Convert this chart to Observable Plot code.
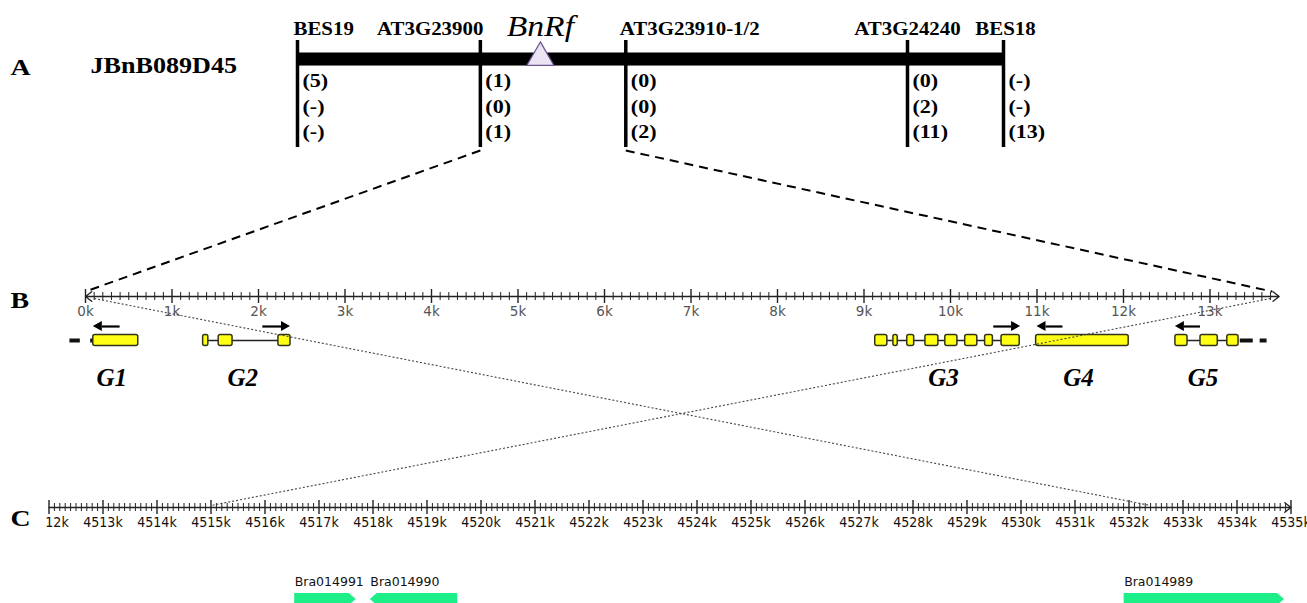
<!DOCTYPE html>
<html><head><meta charset="utf-8">
<script src="https://cdn.jsdelivr.net/npm/d3@7"></script>
<script src="https://cdn.jsdelivr.net/npm/@observablehq/plot@0.6"></script>
<style>
html,body{margin:0;padding:0;background:#fff;overflow:hidden;}
#chart{position:relative;width:1307px;height:603px;overflow:hidden;background:#fff;}
#chart svg{display:block;background:#fff;}
</style></head><body><div id="chart"></div>
<script>
// ---------- Panel A: BAC clone with markers (relative position along clone, 0-100) ----------
const bacName = "JBnB089D45";
const markers = ["BES19", "AT3G23900", "AT3G23910-1/2", "AT3G24240", "BES18"];
const markerPos = [0, 25.9, 46.5, 86.4, 100];
const recombRow1 = ["(5)", "(1)", "(0)", "(0)", "(-)"];
const recombRow2 = ["(-)", "(0)", "(0)", "(2)", "(-)"];
const recombRow3 = ["(-)", "(1)", "(2)", "(11)", "(13)"];
const rfName = "BnRf";
const rfPos = 34.4;
const panelLetters = ["A", "B", "C"];

// ---------- Panel B: BAC sequence (kb) ----------
const bTickValues = [0,1,2,3,4,5,6,7,8,9,10,11,12,13];
const bTickLabels = ["0k","1k","2k","3k","4k","5k","6k","7k","8k","9k","10k","11k","12k","13k"];
const bAxisEnd = 13.8;
const geneNames = ["G1", "G2", "G3", "G4", "G5"];
const geneExons = [
  [[0.09, 0.61]],
  [[1.36, 1.42], [1.54, 1.70], [2.23, 2.37]],
  [[9.13, 9.27], [9.34, 9.39], [9.50, 9.58], [9.71, 9.86], [9.94, 10.08], [10.17, 10.31], [10.40, 10.49], [10.59, 10.80]],
  [[10.99, 12.06]],
  [[12.60, 12.74], [12.89, 13.09], [13.20, 13.33]]
];
const geneArrowFrom = [0.40, 2.05, 10.50, 11.30, 12.89];
const geneArrowTo   = [0.09, 2.37, 10.81, 11.00, 12.60];
const flankStart = [-0.18, 0.06, 13.35, 13.58];
const flankEnd   = [-0.06, 0.09, 13.50, 13.66];

// ---------- Panel C: B. rapa chromosome (kb) ----------
const cTickValues = [4512,4513,4514,4515,4516,4517,4518,4519,4520,4521,4522,4523,4524,4525,4526,4527,4528,4529,4530,4531,4532,4533,4534,4535];
const cTickLabels = ["4512k","4513k","4514k","4515k","4516k","4517k","4518k","4519k","4520k","4521k","4522k","4523k","4524k","4525k","4526k","4527k","4528k","4529k","4530k","4531k","4532k","4533k","4534k","4535k"];
const braNames  = ["Bra014991", "Bra014990", "Bra014989"];
const braStart  = [4516.55, 4517.95, 4531.91];
const braEnd    = [4517.69, 4519.57, 4534.88];
const braStrand = [1, -1, 1];

// ---------- connections ----------
const zoomMarkers = [1, 2];          // AT3G23900, AT3G23910-1/2
const zoomToB = [0, 13.72];          // kb on panel B
const synB = [0.1, 13.7];            // kb on panel B
const synC = [4532.4, 4515.0];       // kb on panel C

// ---------- layout (pixels, vertical) ----------
const W = 1307, H = 603;
const Y = {aLabel: 29, rf: 26, bar: 58.5, rfTri: 57, vTop: 40, vBot: 147, rows: [80, 106, 131], letters: [67, 300, 518],
  bac: 65, zoomTop: 150, zoomBot: 291, bAxis: 296, bLabel: 311, gArrow: 326, gene: 340, gLabel: 377,
  cAxis: 507, cLabel: 522, braLabel: 581, braMid: 599};
const serif = "'Liberation Serif','Times New Roman',Times,serif";
const sans = "'DejaVu Sans',Verdana,sans-serif";
const cond = "'DejaVu Sans Condensed','DejaVu Sans',sans-serif";
const yLayout = {domain: [0, H], range: [0, H], axis: null};

function layer(x, marks, extra = {}) {
  return Plot.plot({width: W, height: H, margin: 0, ...extra, x: {...x, axis: null}, y: yLayout, marks});
}
const idx = markers.map((_, i) => i);
const labelAnchor = ["start", "end", "start", "middle", "middle"];
const labelDx = [-4, 3, -6, 0, 2];
const bold = {fontFamily: serif, fontWeight: "bold", fill: "#000"};

// ---------- Panel A ----------
const plotA = layer({domain: [0, 100], range: [297, 1003]}, [
  Plot.text(panelLetters, {frameAnchor: "left", dx: 10, y: (d, i) => Y.letters[i], text: d => d, fontSize: 24, ...bold}),
  Plot.text([bacName], {frameAnchor: "left", dx: 90, y: () => Y.bac, text: d => d, fontSize: 22.5, ...bold}),
  Plot.ruleY([0], {x1: () => markerPos[0], x2: () => markerPos[markerPos.length - 1], y: () => Y.bar + 4, strokeWidth: 5, stroke: "#bbb", strokeOpacity: 0.6}),
  Plot.ruleY([0], {x1: () => markerPos[0], x2: () => markerPos[markerPos.length - 1], y: () => Y.bar, strokeWidth: 13, stroke: "#000"}),
  Plot.ruleX(markerPos, {x: d => d, y1: () => Y.vTop, y2: () => Y.vBot, strokeWidth: 3.5, stroke: "#000"}),
  Plot.dot([rfPos], {x: d => d, y: () => Y.rfTri, r: 10, symbol: "triangle", fill: "#ebe4f3", stroke: "#6d5592", strokeWidth: 1.3}),
  Plot.text([rfName], {x: () => rfPos, y: () => Y.rf, text: d => d, fontSize: 29, fontStyle: "italic", fontFamily: serif, fill: "#000"}),
  ...idx.map(i => Plot.text([markers[i]], {x: () => markerPos[i], y: () => Y.aLabel, text: d => d,
    textAnchor: labelAnchor[i], dx: labelDx[i], fontSize: 18, ...bold})),
  ...[recombRow1, recombRow2, recombRow3].map((row, r) => Plot.text(idx, {x: i => markerPos[i], y: () => Y.rows[r],
    text: i => row[i], textAnchor: "start", dx: 5, fontSize: 19, ...bold}))
]);
const aTexts = Array.from(plotA.querySelectorAll("text"));

// ---------- Panel B ----------
const bMinor = d3.range(1, Math.round(bAxisEnd * 10)).map(d => d / 10).filter(d => Math.abs(d - Math.round(d)) > 1e-6);
const genes = geneNames.map((name, i) => ({name, exons: geneExons[i], from: geneArrowFrom[i], to: geneArrowTo[i]}));
const exons = genes.flatMap(g => g.exons.map(e => ({s: e[0], e: e[1]})));
const bHeadLen = 9 / 86.5;
const heads = genes.flatMap(g => {
  const dir = Math.sign(g.to - g.from), base = g.to - dir * bHeadLen;
  return [{g: g.name, x: base, y1: Y.gArrow - 5, y2: Y.gArrow + 5}, {g: g.name, x: g.to, y1: Y.gArrow, y2: Y.gArrow}];
});
const plotB = layer({domain: [0, bAxisEnd], range: [85, 85 + bAxisEnd * 86.5]}, [
  Plot.arrow([0, bAxisEnd], {x1: () => bAxisEnd / 2, x2: d => d, y1: () => Y.bAxis, y2: () => Y.bAxis, headLength: 9, headAngle: 75, strokeWidth: 1.3, stroke: "#222"}),
  Plot.ruleX(bMinor, {x: d => d, y1: () => Y.bAxis - 4, y2: () => Y.bAxis + 4, strokeWidth: 1, stroke: "#222"}),
  Plot.ruleX(bTickValues, {x: d => d, y1: () => Y.bAxis - 7, y2: () => Y.bAxis + 7, strokeWidth: 1.4, stroke: "#222"}),
  Plot.text(bTickValues, {x: d => d, y: () => Y.bLabel, text: (d, i) => bTickLabels[i], fontSize: 13.5, fontFamily: sans, fill: "#555"}),
  Plot.ruleY(flankStart.map((s, i) => i), {x1: i => flankStart[i], x2: i => flankEnd[i], y: () => Y.gene, strokeWidth: 4, stroke: "#111"}),
  Plot.ruleY(genes.filter(g => g.exons.length > 1), {x1: g => g.exons[0][0], x2: g => g.exons[g.exons.length - 1][1], y: () => Y.gene, strokeWidth: 1.3, stroke: "#222"}),
  Plot.rect(exons, {x1: "s", x2: "e", y1: () => Y.gene - 5.5, y2: () => Y.gene + 5.5, fill: "#ffff14", stroke: "#33331a", strokeWidth: 1.5, rx: 2}),
  Plot.ruleY(genes, {x1: "from", x2: g => g.to - Math.sign(g.to - g.from) * bHeadLen, y: () => Y.gArrow, strokeWidth: 2.2, stroke: "#000"}),
  Plot.areaY(heads, {x: "x", y1: "y1", y2: "y2", z: "g", fill: "#000"}),
  Plot.text(genes, {x: g => (g.exons[0][0] + g.exons[g.exons.length - 1][1]) / 2, y: () => Y.gLabel, text: "name",
    fontSize: 25, fontStyle: "italic", dx: -4, ...bold})
]);

// ---------- Panel C (the original screenshot is cropped at its left edge) ----------
const cStart = cTickValues[0], cEnd = cTickValues[cTickValues.length - 1];
const cMinor = d3.range(1, (cEnd - cStart) * 10).map(d => cStart + d / 10).filter(d => Math.abs(d - Math.round(d)) > 1e-6);
const cTip = 7 / 54;
const braShapes = braNames.flatMap((n, i) => {
  const s = braStart[i], e = braEnd[i], t = Y.braMid - 6, b = Y.braMid + 6, m = Y.braMid;
  return braStrand[i] > 0
    ? [{n, x: s, y1: t, y2: b}, {n, x: e - cTip, y1: t, y2: b}, {n, x: e, y1: m, y2: m}]
    : [{n, x: s, y1: m, y2: m}, {n, x: s + cTip, y1: t, y2: b}, {n, x: e, y1: t, y2: b}];
});
const plotC = layer({domain: [cStart, cEnd], range: [48.5, 48.5 + (cEnd - cStart) * 54]}, [
  Plot.arrow([cEnd], {x1: () => cStart, x2: d => d, y1: () => Y.cAxis, y2: () => Y.cAxis, headLength: 9, headAngle: 75, strokeWidth: 1.3, stroke: "#222"}),
  Plot.ruleX(cMinor, {x: d => d, y1: () => Y.cAxis - 4, y2: () => Y.cAxis + 4, strokeWidth: 1, stroke: "#222"}),
  Plot.ruleX(cTickValues, {x: d => d, y1: () => Y.cAxis - 7, y2: () => Y.cAxis + 7, strokeWidth: 1.4, stroke: "#222"}),
  Plot.text(cTickValues, {x: d => d, y: () => Y.cLabel, text: (d, i) => cTickLabels[i], fontSize: 14, fontFamily: cond, fill: "#111", clip: true}),
  Plot.areaY(braShapes, {x: "x", y1: "y1", y2: "y2", z: "n", fill: "#1cee88"}),
  Plot.text(braNames, {x: (d, i) => braStart[i], y: () => Y.braLabel, text: d => d, textAnchor: "start", fontSize: 12.5, fontFamily: sans, fill: "#111"})
], {marginLeft: 46});

// ---------- connecting lines ----------
const ax = plotA.scale("x"), bx = plotB.scale("x"), cx = plotC.scale("x");
const zoomLinks = zoomMarkers.map((m, i) => ({x1: ax.apply(markerPos[m]), y1: Y.zoomTop, x2: bx.apply(zoomToB[i]), y2: Y.zoomBot}));
const synLinks = synB.map((b, i) => ({x1: bx.apply(b), y1: Y.bAxis + 2, x2: cx.apply(synC[i]), y2: Y.cAxis - 2}));
const plotL = Plot.plot({width: W, height: H, margin: 0, x: {type: "identity"}, y: {type: "identity"}, marks: [
  Plot.link(zoomLinks, {x1: "x1", y1: "y1", x2: "x2", y2: "y2", stroke: "#000", strokeWidth: 2, strokeDasharray: "9,6"}),
  Plot.link(synLinks, {x1: "x1", y1: "y1", x2: "x2", y2: "y2", stroke: "#444", strokeWidth: 1.1, strokeDasharray: "2,2"})
]});

// merge all rendered layers into a single SVG
const base = plotA;
[plotB, plotC, plotL].forEach(p => {
  Array.from(p.childNodes).forEach(n => { if (n.nodeName.toLowerCase() !== "style") base.appendChild(n); });
});
document.getElementById("chart").appendChild(base);

// the original serif lettering of panel A is horizontally stretched
aTexts.forEach(t => {
  const w = t.getComputedTextLength();
  if (w > 0) { t.setAttribute("textLength", (w * 1.16).toFixed(1)); t.setAttribute("lengthAdjust", "spacingAndGlyphs"); }
});
</script></body></html>
